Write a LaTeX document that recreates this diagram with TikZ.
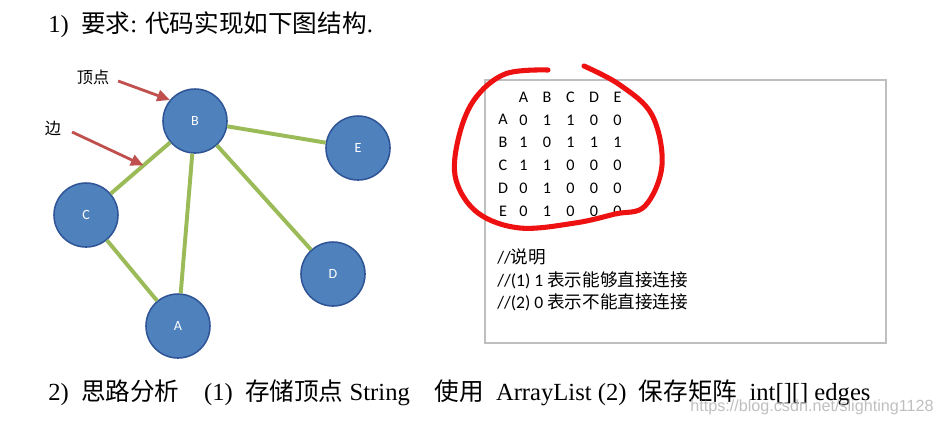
\documentclass[tikz,border=0pt]{standalone}
\usepackage{fontspec}
\setmainfont{Liberation Serif}
\newfontfamily\cjk{Noto Sans CJK SC}
\newfontfamily\calib{Carlito}
\newfontfamily\wmfont{Liberation Sans}
\usetikzlibrary{arrows.meta}

\definecolor{vertexblue}{HTML}{4F81BD}
\definecolor{vertexrim}{HTML}{2F5597}
\definecolor{edgegreen}{HTML}{9BBB59}
\definecolor{arrowred}{HTML}{C0504D}
\definecolor{loopred}{HTML}{EE1111}
\definecolor{boxgray}{HTML}{BFBFBF}

\tikzset{
	vertex/.style={circle, draw=vertexrim, fill=vertexblue, line width=1.1pt, minimum size=1.6cm, inner sep=0pt, text=white, font=\calib\fontsize{10}{12}\selectfont},
	edge/.style={draw=edgegreen, line width=2.8pt},
	pointer/.style={draw=arrowred, line width=2pt, -{Triangle[length=9pt,width=8pt]}},
	cell/.style={font=\calib\fontsize{11.5}{13}\selectfont, inner sep=0pt},
	note/.style={anchor=west, inner sep=0pt, font=\calib\fontsize{12.5}{15}\selectfont},
	heading/.style={anchor=west, inner sep=0pt, font=\fontsize{17.5}{20}\selectfont},
}

\begin{document}
\begin{tikzpicture}[x=0.025cm, y=-0.025cm]
	\useasboundingbox (0,0) rectangle (944,424);

	% title line
	\node[heading] (title) at (48,25) {1)~~{\cjk 要求}: {\cjk 代码实现如下图结构}.};

	% the graph
	\node[vertex] (B) at (195,121) {B};
	\node[vertex] (E) at (358,148) {E};
	\node[vertex] (C) at (86,215) {C};
	\node[vertex] (D) at (333,274) {D};
	\node[vertex] (A) at (178,326) {A};

	\draw[edge] (B) -- coordinate[pos=0.45] (bc) (C);
	\draw[edge] (B) -- (A);
	\draw[edge] (B) -- (D);
	\draw[edge] (B) -- (E);
	\draw[edge] (C) -- (A);

	\node[font=\cjk\fontsize{11.5}{13}\selectfont] (vlabel) at (93,77) {顶点};
	\node[font=\cjk\fontsize{11.5}{13}\selectfont] (elabel) at (53,128) {边};
	\draw[pointer] (vlabel.east) ++(4,4) coordinate (vtail) (vtail) -- (B.140);
	\draw[pointer] (elabel.east) ++(6,4) coordinate (etail) (etail) -- (bc);

	% adjacency matrix in its frame
	\draw[boxgray, line width=0.9pt] (485,80) rectangle (886,343);
	\foreach \c [count=\i] in {A,B,C,D,E}
		\node[cell] (col-\c) at (500+23.5*\i,97) {\c};
	\foreach \r/\vals [count=\j] in {A/{0,1,1,0,0}, B/{1,0,1,1,1}, C/{1,1,0,0,0}, D/{0,1,0,0,0}, E/{0,1,0,0,0}} {
		\node[cell] (row-\r) at (503,97+22.8*\j) {\r};
		\foreach \v [count=\i] in \vals
			\node[cell] (m-\r-\i) at (500+23.5*\i,97+22.8*\j) {\v};
	}

	\node[note] (note0) at (497,257) {//{\cjk 说明}};
	\node[note] (note1) at (497,280) {//(1) 1 {\cjk 表示能够直接连接}};
	\node[note] (note2) at (497,302) {//(2) 0 {\cjk 表示不能直接连接}};

	% red ring drawn by hand
	\draw[loopred, line width=3.6pt, line cap=round, line join=round]
		plot[smooth, tension=0.6] coordinates {(548,70) (505,74) (474,100) (458,140) (456,180) (478,213) (520,228) (575,223) (615,214) (645,206) (662,165) (652,115) (620,85) (584,66)};

	% second line of text
	\node[heading] (plan) at (48,393) {2)~~{\cjk 思路分析}~~~~(1)~~{\cjk 存储顶点} String~~~~{\cjk 使用}~~ArrayList (2)~~{\cjk 保存矩阵}~~int[][] edges};
	\node[anchor=west, inner sep=0pt, text=black!25, font=\wmfont\fontsize{11.5}{13}\selectfont] (mark) at (690,407) {https://blog.csdn.net/slighting1128};
\end{tikzpicture}
\end{document}
